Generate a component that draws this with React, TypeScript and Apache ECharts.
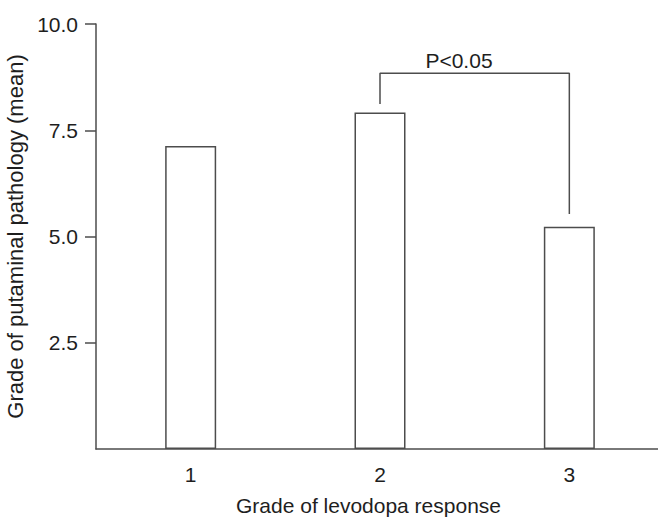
import React, { useEffect, useRef } from "react";
import * as echarts from "echarts";

const categories = ["1", "2", "3"];
const meanPathology = [7.13, 7.92, 5.23];
const yTicks = [0, 2.5, 5, 7.5, 10];
const bracketPoints: [string, number][] = [
  ["2", 8.12],
  ["2", 8.84],
  ["3", 8.84],
  ["3", 5.53],
];
const sigLabel = "P<0.05";
const xTitle = "Grade of levodopa response";
const yTitle = "Grade of putaminal pathology (mean)";

const LINE = "#4d4d4d";
const TEXT = "#1e1e1e";
const FONT = "'Liberation Sans', Arial, sans-serif";

export default function App() {
  const ref = useRef<HTMLDivElement>(null);
  useEffect(() => {
    document.body.style.margin = "0";
    if (!ref.current) return;
    const chart = echarts.init(ref.current, undefined, { renderer: "svg" });
    chart.setOption({
      animation: false,
      backgroundColor: "#ffffff",
      textStyle: { fontFamily: FONT },
      grid: {
        left: 96,
        width: 568,
        top: 24,
        height: 425,
        containLabel: false,
        outerBoundsMode: "none",
      },
      xAxis: {
        type: "category",
        data: categories,
        boundaryGap: true,
        axisLine: { show: true, lineStyle: { color: LINE, width: 1.5 } },
        axisTick: { show: false },
        axisLabel: { color: TEXT, fontSize: 21, margin: 15, fontFamily: FONT },
        name: xTitle,
        nameLocation: "middle",
        nameGap: 46,
        nameTextStyle: { color: TEXT, fontSize: 21, fontFamily: FONT, padding: [0, 23, 0, 0] },
        splitLine: { show: false },
      },
      yAxis: {
        type: "value",
        min: yTicks[0],
        max: yTicks[yTicks.length - 1],
        interval: 2.5,
        axisLine: { show: true, lineStyle: { color: LINE, width: 1.5 } },
        axisTick: { show: true, length: 11, lineStyle: { color: LINE, width: 1.5 } },
        axisLabel: {
          color: TEXT,
          fontSize: 21,
          margin: 18,
          fontFamily: FONT,
          showMinLabel: false,
          formatter: (v: number) => (v === 0 ? "" : v.toFixed(1)),
        },
        splitLine: { show: false },
        name: yTitle,
        nameLocation: "middle",
        nameGap: 56,
        nameTextStyle: { color: TEXT, fontSize: 22, fontFamily: FONT },
      },
      series: [
        {
          type: "bar",
          data: meanPathology,
          barWidth: 51,
          itemStyle: { color: "#ffffff", borderColor: LINE, borderWidth: 1.5 },
        },
        {
          type: "line",
          data: bracketPoints,
          symbol: "none",
          lineStyle: { color: LINE, width: 1.5 },
          silent: true,
        },
      ],
      graphic: [
        {
          type: "text",
          x: 459,
          y: 60,
          style: {
            text: sigLabel,
            fill: TEXT,
            font: `21px ${FONT}`,
            align: "center",
            verticalAlign: "middle",
          },
        },
      ],
    });
    return () => chart.dispose();
  }, []);
  return <div ref={ref} style={{ width: 658, height: 519 }} />;
}
